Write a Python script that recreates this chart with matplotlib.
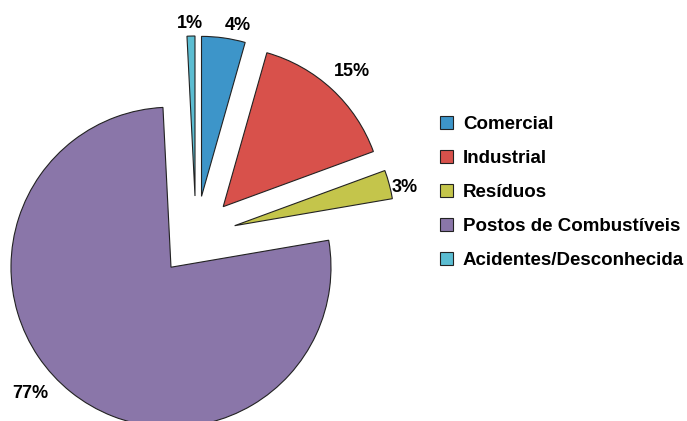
import matplotlib.pyplot as plt

# Dados
categorias = ["Comercial", "Industrial", "Resíduos",
              "Postos de Combustíveis", "Acidentes/Desconhecida"]
valores = [4.4, 15.0, 2.9, 76.9, 0.8]
cores = ["#3d95c9", "#d8514b", "#c4c54b", "#8a76a9", "#5bbdd2"]

# posicoes dos rotulos de porcentagem (coordenadas em pixels)
pos_rotulos = [(238, 395), (352, 349), (405, 234), (30, 28), (190, 398)]

plt.rcParams["font.family"] = ["Liberation Sans", "DejaVu Sans"]

fig = plt.figure(figsize=(6.87, 4.21), dpi=100)
ax = fig.add_axes([0, 0, 1, 1])

wedges, textos, pcts = ax.pie(
    valores,
    colors=cores,
    center=(196, 185),
    radius=160,
    explode=[40] * len(valores),
    startangle=90,
    counterclock=False,
    autopct="%.0f%%",
    pctdistance=1.12,
    wedgeprops=dict(edgecolor="#222222", linewidth=0.8),
    textprops=dict(fontsize=13, fontweight="bold", color="black"),
    frame=True,
)
ax.set_xlim(0, 687)
ax.set_ylim(0, 421)
ax.set_aspect("equal")
ax.axis("off")

for t, p in zip(pcts, pos_rotulos):
    t.set_position(p)
    t.set_ha("center")
    t.set_va("center")

ax.legend(
    wedges, categorias,
    loc="upper left",
    bbox_to_anchor=(0.63, 0.742),
    frameon=False,
    prop=dict(size=13.5, weight="bold"),
    handlelength=0.7,
    handleheight=0.7,
    handletextpad=0.5,
    labelspacing=0.9,
    borderaxespad=0,
)

fig.savefig("out.png", dpi=100)
